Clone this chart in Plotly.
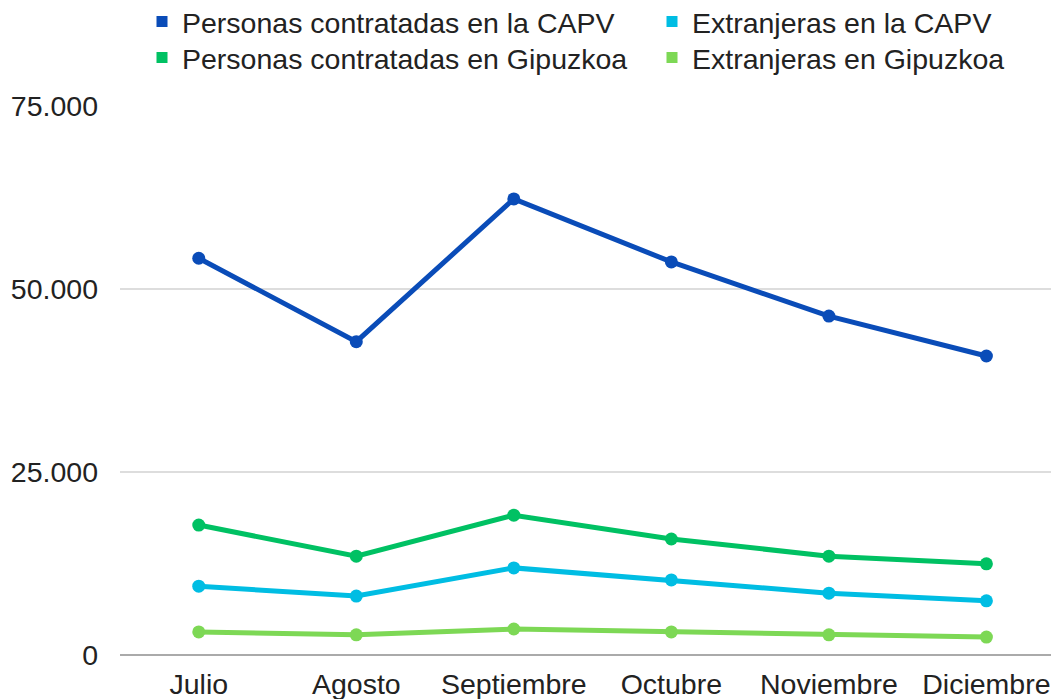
import plotly.graph_objects as go

meses = ["Julio", "Agosto", "Septiembre", "Octubre", "Noviembre", "Diciembre"]
capv = [54200, 42800, 62300, 53700, 46300, 40850]
extr_capv = [9400, 8050, 11900, 10250, 8450, 7400]
gipuzkoa = [17750, 13500, 19100, 15850, 13500, 12450]
extr_gipuzkoa = [3150, 2750, 3550, 3150, 2750, 2450]

nombres = ["Personas contratadas en la CAPV", "Extranjeras en la CAPV",
           "Personas contratadas en Gipuzkoa", "Extranjeras en Gipuzkoa"]
colores = ["#0a4cb8", "#00bde3", "#00c163", "#7dd855"]
series = [capv, extr_capv, gipuzkoa, extr_gipuzkoa]
leyendas = ["legend", "legend2", "legend3", "legend4"]

FONT = "Liberation Sans, Arial, sans-serif"
FS = 28.5
TXT = "#222222"

fig = go.Figure()
for nombre, col, vals in zip(nombres, colores, series):
    fig.add_trace(go.Scatter(
        x=meses, y=vals, mode="lines+markers", name=nombre,
        line=dict(color=col, width=5),
        marker=dict(color=col, size=13),
        showlegend=False, cliponaxis=False,
    ))
for nombre, col, lg in zip(nombres, colores, leyendas):
    fig.add_trace(go.Scatter(
        x=[None], y=[None], mode="markers", name=nombre,
        marker=dict(color=col, size=11, symbol="square"),
        showlegend=True, legend=lg,
    ))

W, H = 1051, 699
PLOT_L, PLOT_T, PLOT_B, PLOT_R = 120, 106, 655, 1051
PLOT_W = PLOT_R - PLOT_L

def lx(pix_marker):
    return (pix_marker - 19 - PLOT_L) / PLOT_W

def ly(pix):
    return 1 - pix / H

leg_common = dict(
    orientation="h", xref="paper", yref="container",
    xanchor="left", yanchor="middle",
    font=dict(family=FONT, size=FS, color=TXT),
    bgcolor="rgba(0,0,0,0)", borderwidth=0,
)

fig.update_layout(
    width=W, height=H,
    margin=dict(l=PLOT_L, r=W - PLOT_R, t=PLOT_T, b=H - PLOT_B, autoexpand=False),
    paper_bgcolor="white", plot_bgcolor="white",
    font=dict(family=FONT, size=FS, color=TXT),
    legend=dict(leg_common, x=lx(161), y=ly(22)),
    legend2=dict(leg_common, x=lx(671), y=ly(22)),
    legend3=dict(leg_common, x=lx(161), y=ly(58)),
    legend4=dict(leg_common, x=lx(671), y=ly(58)),
    xaxis=dict(
        type="category", range=[-0.5, 5.41],
        showgrid=False, showline=False, zeroline=False,
        ticks="", ticklabelstandoff=9,
        tickfont=dict(family=FONT, size=FS, color=TXT),
        automargin=False,
    ),
    yaxis=dict(
        range=[0, 75000], tickvals=[0, 25000, 50000, 75000],
        ticktext=["0", "25.000", "50.000", "75.000"],
        showgrid=True, gridcolor="#dddddd", gridwidth=2,
        zeroline=True, zerolinecolor="#aaaaaa", zerolinewidth=2,
        showline=False, ticks="", ticklabelstandoff=21,
        tickfont=dict(family=FONT, size=FS, color=TXT),
        automargin=False,
    ),
)

fig.write_html(
    "out.html",
    config={"displayModeBar": False},
    post_script="document.body.style.margin='0';document.body.style.overflow='hidden';",
)
